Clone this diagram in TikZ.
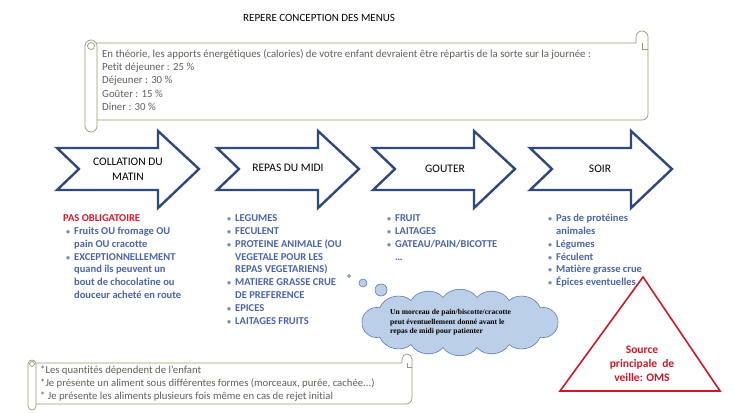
\documentclass[tikz,border=0pt]{standalone}
\usepackage{fontspec}
\setmainfont{Carlito}[Ligatures=NoCommon]
\newfontfamily\cloudfont{Liberation Serif}

\definecolor{arrowblue}{RGB}{47,72,128}
\definecolor{listblue}{RGB}{74,100,165}
\definecolor{alertred}{RGB}{222,22,40}
\definecolor{omsred}{RGB}{204,24,40}
\definecolor{scrollgreen}{RGB}{142,160,112}
\definecolor{scrolltext}{RGB}{96,96,88}
\definecolor{cloudfill}{RGB}{187,207,232}
\definecolor{cloudline}{RGB}{95,125,175}

% bullet line and continuation line
\newcommand{\itm}[1]{\makebox[8pt][l]{\textcolor{listblue!75}{\fontsize{8}{8}\selectfont\textbullet}}#1}
\newcommand{\cnt}[1]{\hspace*{8pt}#1}

\begin{document}
\begin{tikzpicture}[x=1pt,y=-1pt,
  menuarrow/.style={draw=arrowblue,line width=2.4pt,fill=white,line join=miter},
  menulabel/.style={font=\fontsize{11.5}{15}\selectfont,align=center,inner sep=0pt},
  menulist/.style={font=\fontsize{10.5}{12.8}\selectfont\bfseries,text=listblue,align=left,inner sep=0pt,anchor=base west},
  scrollline/.style={draw=scrollgreen,line width=0.7pt},
  scrollnote/.style={text=scrolltext,align=left,inner sep=0pt,anchor=base west},
  puff/.style={fill=cloudfill,draw=cloudline,line width=0.6pt}]
\useasboundingbox (0,0) rectangle (733,412);

% Title
\node[font=\fontsize{11}{12}\selectfont,inner sep=0pt,anchor=base west] (title) at (243,22) {REPERE CONCEPTION DES MENUS};

% Top scroll (text nodes sit on their last line)
\draw[scrollline,fill=white] (97,120) -- (642,120) arc[start angle=90,end angle=0,radius=6]
  -- (648,37) arc[start angle=0,end angle=-180,radius=6] -- (636,43) -- (91,43);
\draw[scrollline] (642,43) -- (642,49) -- (648,49);
\draw[scrollline,fill=white,rounded corners=6pt] (85,40) rectangle (97,132);
\draw[scrollline] (91,46) circle[radius=3.5];
\node[scrollnote,font=\fontsize{10.8}{13.2}\selectfont] (apports) at (102,110.3)
  {En théorie, les apports énergétiques (calories) de votre enfant devraient être répartis de la sorte sur la journée :\\
   Petit déjeuner : 25 \%\\ Déjeuner : 30 \%\\ Goûter : 15 \%\\ Diner : 30 \%};

% Menu arrows
\foreach \x in {57,217,373,530}
  \draw[menuarrow] (\x,148) -- ++(101,0) -- ++(0,-17) -- ++(41,38) -- ++(-41,39)
    -- ++(0,-18) -- ++(-101,0) -- ++(22,-21) -- cycle;
\node[menulabel] (collation) at (128,169.5) {COLLATION DU\\MATIN};
\node[menulabel] (midi) at (288,168) {REPAS DU MIDI};
\node[menulabel] (gouter) at (445,169) {GOUTER};
\node[menulabel] (soir) at (600,169) {SOIR};

% Lists
\node[menulist] (collist) at (63,298.5)
  {\textcolor{alertred}{PAS OBLIGATOIRE}\\
   \hspace*{3pt}\itm{Fruits OU fromage OU}\\ \hspace*{3pt}\cnt{pain OU cracotte}\\
   \hspace*{3pt}\itm{EXCEPTIONNELLEMENT}\\ \hspace*{3pt}\cnt{quand ils peuvent un}\\
   \hspace*{3pt}\cnt{bout de chocolatine ou}\\ \hspace*{3pt}\cnt{douceur acheté en route}};
\node[menulist] (midilist) at (227,324.1)
  {\itm{LEGUMES}\\ \itm{FECULENT}\\ \itm{PROTEINE ANIMALE (OU}\\ \cnt{VEGETALE POUR LES}\\
   \cnt{REPAS VEGETARIENS)}\\ \itm{MATIERE GRASSE CRUE}\\ \cnt{DE PREFERENCE}\\
   \itm{EPICES}\\ \itm{LAITAGES FRUITS}};
\node[menulist] (goutlist) at (387,260.1)
  {\itm{FRUIT}\\ \itm{LAITAGES}\\ \itm{GATEAU/PAIN/BICOTTE}\\ \cnt{…}};
\node[menulist] (soirlist) at (548,285.7)
  {\itm{Pas de protéines}\\ \cnt{animales}\\ \itm{Légumes}\\ \itm{Féculent}\\
   \itm{Matière grasse crue}\\ \itm{Épices eventuelles}};

% Thought cloud
\draw[puff] (349,276) circle[radius=1.5];
\draw[puff] (363,283) circle[radius=4];
\draw[puff] (381,290) circle[radius=6];
\begin{scope}[shift={(460,322.5)}]
\draw[puff] (0:98 and 25.5)
  \foreach \a in {35,60,80,100,120,145,180,215,240,260,280,300,325,360} { to[bend left=55] (\a:98 and 25.5) }
  -- cycle;
\end{scope}
\node[font=\cloudfont\fontsize{7.6}{9.5}\selectfont\bfseries,align=left,inner sep=0pt,anchor=base west]
  (patienter) at (390,333.5)
  {Un morceau de pain/biscotte/cracotte\\ peut éventuellement donné avant le\\ repas de midi pour patienter};

% Source triangle
\draw[omsred,line width=1.6pt,line join=miter] (643,277) -- (720,391) -- (560,391) -- cycle;
\node[font=\fontsize{11.5}{14}\selectfont\bfseries,text=omsred,align=center,inner sep=0pt] (oms) at (642,364)
  {Source\\ principale\ \ de\\ veille: OMS};

% Bottom scroll
\draw[scrollline,fill=white] (36,404) -- (406,404) arc[start angle=90,end angle=0,radius=6]
  -- (412,359) arc[start angle=0,end angle=-180,radius=5] -- (402,363) -- (32,363);
\draw[scrollline] (407,363) -- (407,367) -- (412,367);
\draw[scrollline,fill=white,rounded corners=4pt] (28,360) rectangle (36,410);
\draw[scrollline] (32,364) circle[radius=2.5];
\node[scrollnote,font=\fontsize{10.7}{13}\selectfont] (conseils) at (40,399.5)
  {*Les quantités dépendent de l’enfant\\
   *Je présente un aliment sous différentes formes (morceaux, purée, cachée...)\\
   * Je présente les aliments plusieurs fois même en cas de rejet initial};
\end{tikzpicture}
\end{document}
